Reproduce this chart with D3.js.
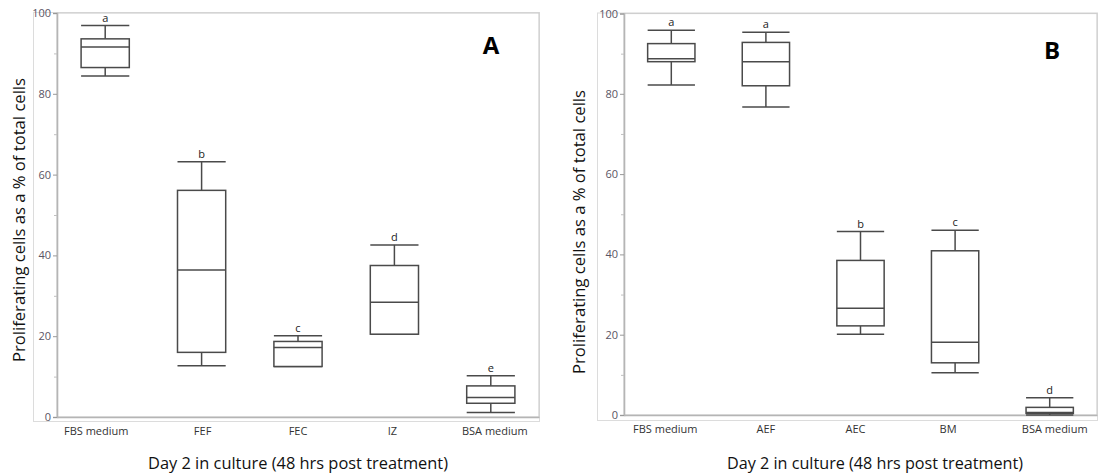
<!DOCTYPE html>
<html>
<head>
<meta charset="utf-8">
<script src="https://cdn.jsdelivr.net/npm/d3@7"></script>
<style>
  html, body { margin: 0; padding: 0; background: #fff; }
  svg { display: block; }
  text { font-family: "Open Sans", "Liberation Sans", Arial, sans-serif; }
</style>
</head>
<body>
<svg id="chart" width="1099" height="475"></svg>
<script>
// ---------- Data ----------
const yTicks = [0, 20, 40, 60, 80, 100];
const yMinorTicks = [10, 30, 50, 70, 90];

const catsA = ["FBS medium", "FEF", "FEC", "IZ", "BSA medium"];
const lowA  = [84.4, 12.7, 12.5, 20.5, 1.1];
const q1A   = [86.5, 16.0, 12.5, 20.5, 3.4];
const medA  = [91.6, 36.4, 17.2, 28.4, 4.8];
const q3A   = [93.6, 56.1, 18.7, 37.5, 7.7];
const highA = [96.9, 63.2, 20.1, 42.6, 10.2];
const lettersA = ["a", "b", "c", "d", "e"];

const catsB = ["FBS medium", "AEF", "AEC", "BM", "BSA medium"];
const lowB  = [82.2, 76.7, 20.1, 10.5, 0.0];
const q1B   = [88.0, 82.0, 22.2, 13.0, 0.4];
const medB  = [88.7, 88.0, 26.6, 18.1, 0.6];
const q3B   = [92.5, 92.8, 38.5, 40.9, 1.9];
const highB = [95.8, 95.3, 45.7, 46.0, 4.3];
const lettersB = ["a", "a", "b", "c", "d"];

const xTitle = "Day 2 in culture (48 hrs post treatment)";
const yTitle = "Proliferating cells as a % of total cells";

// ---------- Drawing ----------
const svg = d3.select("#chart");
const boxColor = "#4a4a4a";

function drawPanel(p) {
  const g = svg.append("g");
  const x = d3.scaleBand().domain(p.cats).range([p.x0, p.x1]).padding(0);
  const y = d3.scaleLinear().domain([0, 100]).range([p.yBottom, p.yTop]);

  // outer frame
  g.append("rect")
    .attr("x", p.outerX + 0.5).attr("y", p.yTop - 1 + 0.5)
    .attr("width", p.x1 - p.outerX).attr("height", p.outerBottom - p.yTop + 1)
    .attr("fill", "none").attr("stroke", "#dcdcdc").attr("stroke-width", 1);
  // plot frame
  g.append("rect")
    .attr("x", p.x0).attr("y", p.yTop)
    .attr("width", p.x1 - p.x0).attr("height", p.yBottom - p.yTop)
    .attr("fill", "none").attr("stroke", "#cfcfcf").attr("stroke-width", 1.2);

  // y axis
  const yAxis = d3.axisLeft(y).tickValues(yTicks).tickSize(4).tickPadding(2);
  const ya = g.append("g").attr("transform", `translate(${p.x0},0)`).call(yAxis);
  ya.select(".domain").attr("stroke", "#b5b5b5").attr("stroke-width", 1.6);
  ya.selectAll(".tick line").attr("stroke", "#999");
  ya.selectAll(".tick text").attr("fill", "#5a5464").attr("font-size", 11)
    .attr("font-family", "'Open Sans', sans-serif");
  const yMinor = d3.axisLeft(y).tickValues(yMinorTicks).tickSize(3).tickFormat("");
  const ym = g.append("g").attr("transform", `translate(${p.x0},0)`).call(yMinor);
  ym.select(".domain").remove();
  ym.selectAll(".tick line").attr("stroke", "#c0c0c0");

  // x axis line
  const xAxis = d3.axisBottom(x).tickSize(0).tickPadding(10);
  const xa = g.append("g").attr("transform", `translate(0,${p.yBottom})`).call(xAxis);
  xa.select(".domain").attr("stroke", "#b5b5b5").attr("stroke-width", 1.6);
  xa.selectAll(".tick text").attr("fill", "#333").attr("font-size", 11)
    .attr("font-family", "'Open Sans', sans-serif")
    .attr("dx", (d, i) => p.labelNudge[i]);

  // boxes
  const rows = p.cats.map((c, i) => ({
    c, low: p.low[i], q1: p.q1[i], med: p.med[i], q3: p.q3[i], high: p.high[i], letter: p.letters[i]
  }));
  const bw = x.bandwidth() * 0.5;
  const cx = d => x(d.c) + x.bandwidth() / 2;

  const bx = g.selectAll(".bx").data(rows).join("g").attr("class", "bx");
  // whiskers
  bx.append("line")
    .attr("x1", cx).attr("x2", cx)
    .attr("y1", d => y(d.high)).attr("y2", d => y(d.q3))
    .attr("stroke", boxColor).attr("stroke-width", 1.5);
  bx.append("line")
    .attr("x1", cx).attr("x2", cx)
    .attr("y1", d => y(d.q1)).attr("y2", d => y(d.low))
    .attr("stroke", boxColor).attr("stroke-width", 1.5);
  // caps
  bx.append("line")
    .attr("x1", d => cx(d) - bw / 2).attr("x2", d => cx(d) + bw / 2)
    .attr("y1", d => y(d.high)).attr("y2", d => y(d.high))
    .attr("stroke", boxColor).attr("stroke-width", 1.5);
  bx.append("line")
    .attr("x1", d => cx(d) - bw / 2).attr("x2", d => cx(d) + bw / 2)
    .attr("y1", d => y(d.low)).attr("y2", d => y(d.low))
    .attr("stroke", boxColor).attr("stroke-width", 1.5);
  // box
  bx.append("rect")
    .attr("x", d => cx(d) - bw / 2).attr("width", bw)
    .attr("y", d => y(d.q3)).attr("height", d => y(d.q1) - y(d.q3))
    .attr("fill", "#fff").attr("stroke", boxColor).attr("stroke-width", 1.5);
  // median
  bx.append("line")
    .attr("x1", d => cx(d) - bw / 2).attr("x2", d => cx(d) + bw / 2)
    .attr("y1", d => y(d.med)).attr("y2", d => y(d.med))
    .attr("stroke", boxColor).attr("stroke-width", 1.5);
  // letters
  bx.append("text")
    .attr("x", cx).attr("y", d => y(d.high) - 4)
    .attr("text-anchor", "middle").attr("font-size", 11).attr("fill", "#222")
    .attr("font-family", "'Open Sans', sans-serif")
    .text(d => d.letter);

  // panel label
  g.append("text")
    .attr("x", p.tagX).attr("y", p.tagY)
    .attr("text-anchor", "middle").attr("font-size", 24).attr("font-weight", "bold")
    .attr("font-family", "'Liberation Sans', Arial, sans-serif")
    .attr("fill", "#000").text(p.tag);

  // axis titles
  g.append("text")
    .attr("x", p.xTitleX).attr("y", 469)
    .attr("text-anchor", "middle").attr("font-size", 16).attr("fill", "#111")
    .attr("textLength", p.xTitleLen).attr("lengthAdjust", "spacingAndGlyphs")
    .text(xTitle);
  g.append("text")
    .attr("transform", `translate(${p.yTitleX},${p.yTitleY}) rotate(-90)`)
    .attr("text-anchor", "middle").attr("font-size", 16).attr("fill", "#111")
    .attr("textLength", 284).attr("lengthAdjust", "spacingAndGlyphs")
    .text(yTitle);
}

drawPanel({
  cats: catsA, low: lowA, q1: q1A, med: medA, q3: q3A, high: highA, letters: lettersA,
  x0: 57, x1: 539, yTop: 13, yBottom: 417, outerX: 33, outerBottom: 421,
  labelNudge: [-9, 1, 0, -2, 4],
  tag: "A", tagX: 491, tagY: 54,
  xTitleX: 298, xTitleLen: 300,
  yTitleX: 25, yTitleY: 220
});

drawPanel({
  cats: catsB, low: lowB, q1: q1B, med: medB, q3: q3B, high: highB, letters: lettersB,
  x0: 624, x1: 1097, yTop: 13.5, yBottom: 415, outerX: 597, outerBottom: 420,
  labelNudge: [-6, 0, -5, -7, 5],
  tag: "B", tagX: 1052, tagY: 59,
  xTitleX: 875, xTitleLen: 296,
  yTitleX: 585, yTitleY: 232
});
</script>
</body>
</html>
